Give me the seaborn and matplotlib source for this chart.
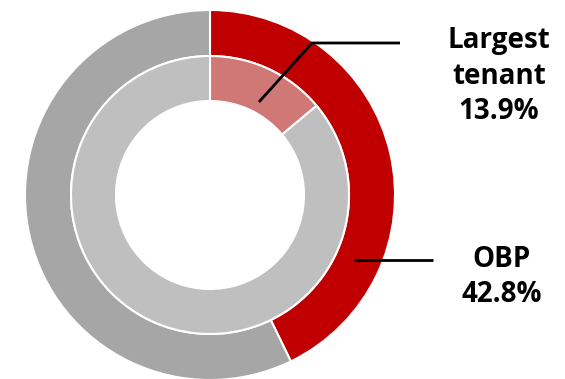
import matplotlib
matplotlib.use("Agg")
import matplotlib.pyplot as plt
import seaborn as sns

# Data
outer_labels = ["OBP", "Other"]
outer_values = [42.8, 57.2]
inner_labels = ["Largest tenant", "Other"]
inner_values = [13.9, 86.1]

outer_colors = ["#c00000", "#a6a6a6"]
inner_colors = ["#d07876", "#bfbfbf"]

sns.set_theme(style="white")
plt.rcParams['font.family'] = ['Open Sans', 'DejaVu Sans']

W, H = 565, 379
fig = plt.figure(figsize=(W / 100, H / 100), dpi=100)
ax = fig.add_axes([0, 0, 1, 1])

cx, cy = 210, H - 195
R_out, w_out = 185, 46
R_in, w_in = 139, 45

ax.pie(outer_values, radius=R_out, center=(cx, cy), colors=outer_colors,
       startangle=90, counterclock=False,
       wedgeprops=dict(width=w_out, edgecolor="white", linewidth=1.5),
       frame=True)
ax.pie(inner_values, radius=R_in, center=(cx, cy), colors=inner_colors,
       startangle=90, counterclock=False,
       wedgeprops=dict(width=w_in, edgecolor="white", linewidth=1.5),
       frame=True)
ax.set_xlim(0, W)
ax.set_ylim(0, H)
ax.set_aspect("equal")
ax.axis("off")

def Y(y):
    return H - y

# leader lines
ax.plot([259, 312, 400], [Y(102), Y(43), Y(43)], color="black", lw=2, solid_capstyle="butt")
ax.plot([354, 433], [Y(260), Y(260)], color="black", lw=2, solid_capstyle="butt")

ax.text(499, Y(76), f"Largest\ntenant\n{inner_values[0]:.1f}%", ha="center", va="center",
        fontsize=20, fontweight="bold", color="black", linespacing=1.3)
ax.text(502, Y(277), f"{outer_labels[0]}\n{outer_values[0]:.1f}%", ha="center", va="center",
        fontsize=20, fontweight="bold", color="black", linespacing=1.3)

fig.savefig("out.png", dpi=100)
